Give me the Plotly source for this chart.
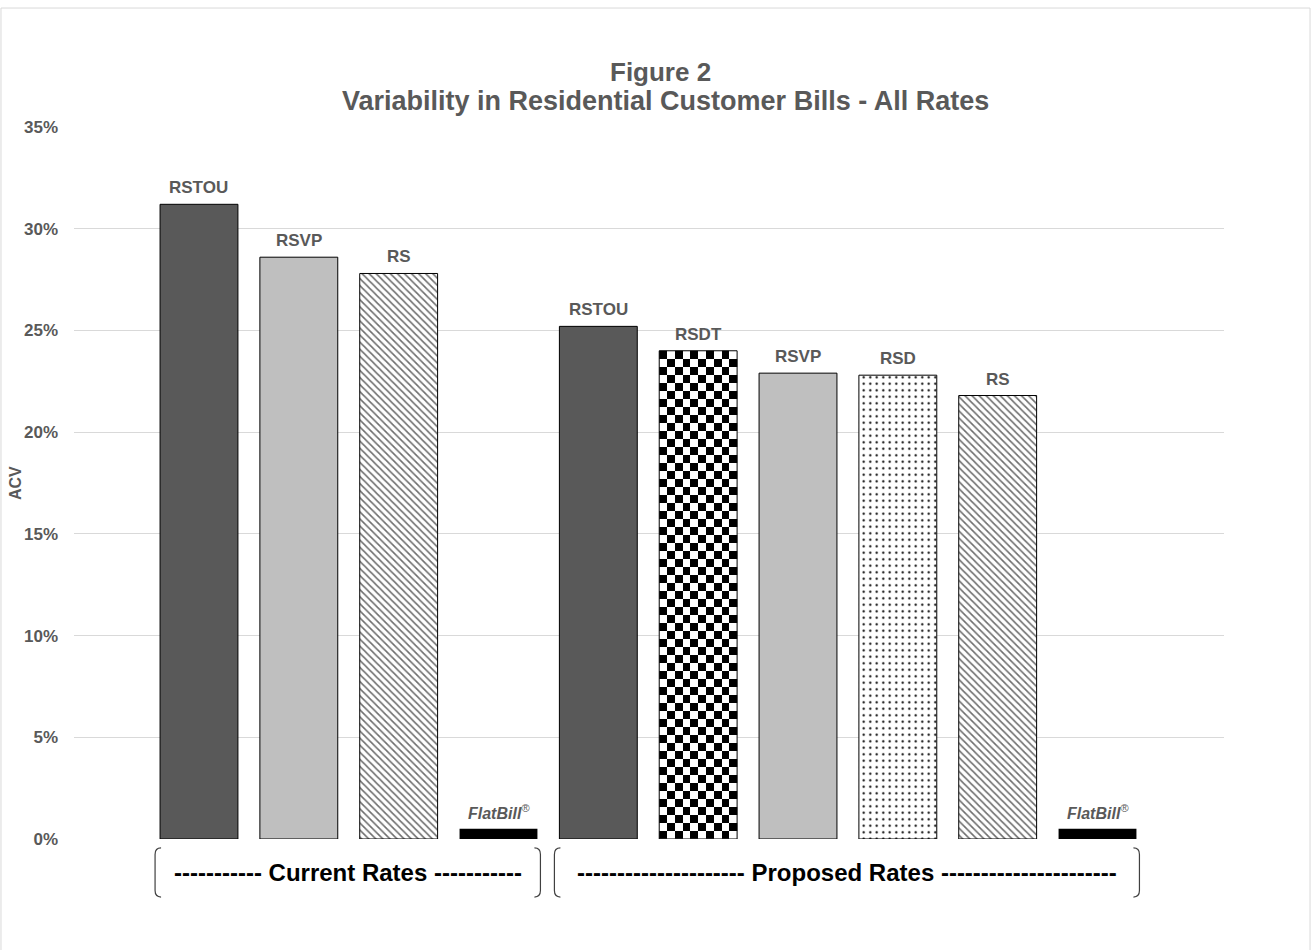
import numpy as np
import plotly.graph_objects as go

# ---- data -------------------------------------------------------------
GROUPS = ["Current Rates", "Proposed Rates"]
CURRENT_RATES = ["RSTOU", "RSVP", "RS", "FlatBill"]
CURRENT_ACV = [31.2, 28.6, 27.8, 0.5]
PROPOSED_RATES = ["RSTOU", "RSDT", "RSVP", "RSD", "RS", "FlatBill"]
PROPOSED_ACV = [25.2, 24.0, 22.9, 22.8, 21.8, 0.5]

rates = CURRENT_RATES + PROPOSED_RATES
acv = CURRENT_ACV + PROPOSED_ACV
xpos = list(range(1, len(rates) + 1))

# ---- styling ------------------------------------------------------------
GREY_TEXT = "#595959"
FONT = "Arial, Liberation Sans, sans-serif"
BAR_W = 0.78

# fill colour, pattern shape, pattern colour, pattern size, solidity, outline width
STYLE = {
    "RSTOU": ("#595959", "", None, None, None, 1),
    "RSVP": ("#bfbfbf", "", None, None, None, 1),
    "RS": ("#ffffff", "\\", "#6e6e6e", 5, 0.32, 1),
    "RSD": ("#ffffff", ".", "#000000", 6.5, 0.09, 1),
    "RSDT": ("rgba(0,0,0,0)", "", None, None, None, 1),
    "FlatBill": ("#000000", "", None, None, None, 0),
}

fig = go.Figure()

# checkerboard fill for the RSDT bar, built as a small heatmap under the bar
for x, r, v in zip(xpos, rates, acv):
    if r != "RSDT":
        continue
    ncol = 10
    nrow = int(round(v / 0.393))
    xe = np.linspace(x - BAR_W / 2, x + BAR_W / 2, ncol + 1)
    ye = np.linspace(0, v, nrow + 1)
    z = [[1 if (nrow - 1 - i + j) % 2 == 0 else 0 for j in range(ncol)] for i in range(nrow)]
    fig.add_trace(go.Heatmap(
        x=xe, y=ye, z=z, zmin=0, zmax=1, zsmooth=False,
        colorscale=[[0, "#ffffff"], [1, "#000000"]],
        showscale=False, hoverinfo="skip",
    ))

# one bar trace per fill style
for key, (col, shp, fg, psz, sol, lw) in STYLE.items():
    xs = [x for x, r in zip(xpos, rates) if r == key]
    ys = [v for v, r in zip(acv, rates) if r == key]
    marker = dict(color=col, line=dict(color="#000000", width=lw))
    if shp:
        marker["pattern"] = dict(shape=shp, fgcolor=fg, bgcolor=col, size=psz,
                                 solidity=sol, fillmode="replace")
    fig.add_trace(go.Bar(x=xs, y=ys, width=BAR_W, marker=marker, name=key,
                         hovertemplate=key + ": %{y}%<extra></extra>"))

# rate labels over each bar
for x, r, v in zip(xpos, rates, acv):
    if r == "FlatBill":
        txt = "<i><b>FlatBill</b><sup>®</sup></i>"
        size = 16
    else:
        txt = "<b>" + r + "</b>"
        size = 17
    fig.add_annotation(x=x, y=v, text=txt, showarrow=False, yanchor="bottom",
                       yshift=5, font=dict(family=FONT, size=size, color=GREY_TEXT))

# group brackets under the axis
group_members = [CURRENT_RATES, PROPOSED_RATES]
dashes = [("-----------", "-----------"),
          ("---------------------", "----------------------")]
start = 1
y_top, y_bot = -0.0126, -0.0815
hook_x, hook_y = 0.06, 0.009
for g, members, (dl, dr) in zip(GROUPS, group_members, dashes):
    x0 = start - 0.44
    x1 = start + len(members) - 1 + 0.42
    left = (f"M {x0 + hook_x},{y_top} Q {x0},{y_top} {x0},{y_top - hook_y} "
            f"L {x0},{y_bot + hook_y} Q {x0},{y_bot} {x0 + hook_x},{y_bot}")
    right = (f"M {x1 - hook_x},{y_top} Q {x1},{y_top} {x1},{y_top - hook_y} "
             f"L {x1},{y_bot + hook_y} Q {x1},{y_bot} {x1 - hook_x},{y_bot}")
    for p in (left, right):
        fig.add_shape(type="path", path=p, xref="x", yref="paper",
                      line=dict(color="#404040", width=1.2))
    fig.add_annotation(x=(x0 + x1) / 2, y=(y_top + y_bot) / 2, xref="x", yref="paper",
                       xanchor="center", yanchor="middle",
                       text=f"<b>{dl} {g} {dr}</b>", showarrow=False,
                       font=dict(family=FONT, size=24, color="#000000"))
    start += len(members)

# chart frame
fig.add_shape(type="rect", xref="paper", yref="paper",
              x0=-0.0635, x1=1.0748, y0=-0.17, y1=1.1671,
              line=dict(color="#d9d9d9", width=1), fillcolor="rgba(0,0,0,0)", layer="below")

# title lines
fig.add_annotation(xref="paper", yref="paper", x=0.51, y=1.077,
                   xanchor="center", yanchor="middle",
                   text="<b>Figure 2</b>", showarrow=False,
                   font=dict(family=FONT, size=26, color=GREY_TEXT))
fig.add_annotation(xref="paper", yref="paper", x=0.514, y=1.0365,
                   xanchor="center", yanchor="middle",
                   text="<b>Variability in Residential Customer Bills - All Rates</b>",
                   showarrow=False, font=dict(family=FONT, size=27, color=GREY_TEXT))

# y-axis title
fig.add_annotation(xref="paper", yref="paper", x=-0.0513, y=0.5, textangle=-90,
                   xanchor="center", yanchor="middle",
                   text="<b>ACV</b>", showarrow=False,
                   font=dict(family=FONT, size=16, color=GREY_TEXT))

fig.update_layout(
    width=1314, height=950,
    margin=dict(l=74, r=90, t=127, b=111),
    paper_bgcolor="#ffffff", plot_bgcolor="#ffffff",
    showlegend=False, barmode="overlay",
    xaxis=dict(range=[-0.252, 11.267], showticklabels=False, showgrid=False,
               zeroline=False, showline=False, fixedrange=True),
    yaxis=dict(range=[0, 35], dtick=5, ticksuffix="%", showgrid=True,
               gridcolor="#d9d9d9", gridwidth=1, zeroline=False, showline=False,
               ticklabelstandoff=15,
               tickfont=dict(family=FONT, size=17, color=GREY_TEXT, weight="bold"),
               fixedrange=True),
)

fig.write_html("out.html")
